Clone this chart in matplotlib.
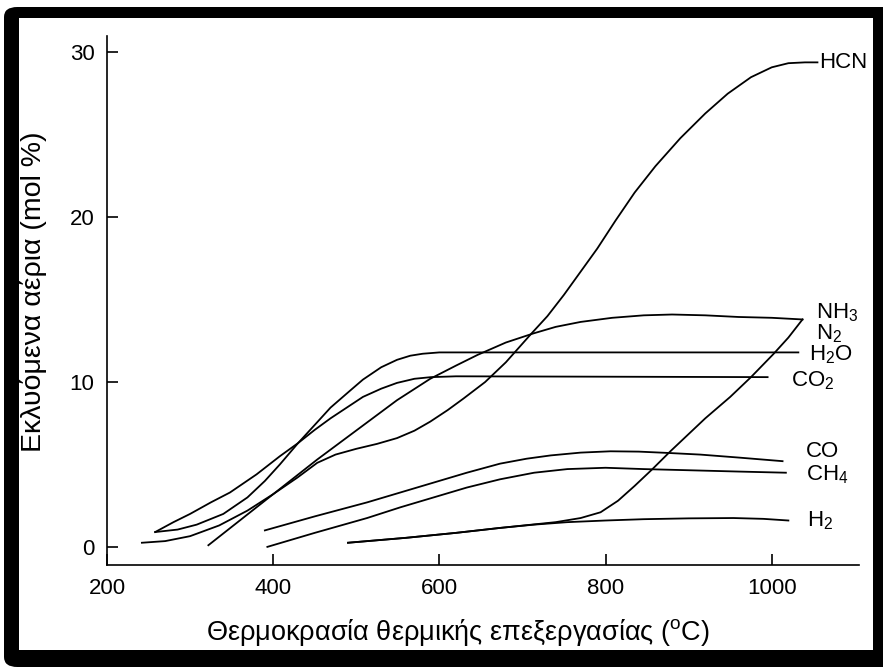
import matplotlib.pyplot as plt
from matplotlib.patches import FancyBboxPatch, Rectangle

plt.rcParams['font.family'] = ['Liberation Sans', 'DejaVu Sans']
plt.rcParams['mathtext.fontset'] = 'custom'
plt.rcParams['mathtext.rm'] = 'Liberation Sans'
plt.rcParams['mathtext.it'] = 'Liberation Sans'

# temperatures (C) and evolved gas (mol %)
hcn_t = [242, 270, 300, 335, 369, 400, 429, 453, 475, 500, 525, 549, 570, 589, 610, 629, 655,
         680, 710, 730, 750, 770, 790, 812, 835, 860, 890, 920, 947, 975, 1000, 1020, 1040, 1055]
hcn_v = [0.25, 0.35, 0.65, 1.3, 2.2, 3.2, 4.2, 5.1, 5.6, 5.95, 6.25, 6.6, 7.05, 7.6, 8.3, 9.0, 10.0,
         11.2, 12.9, 14.0, 15.3, 16.7, 18.1, 19.8, 21.5, 23.1, 24.8, 26.3, 27.5, 28.5, 29.1, 29.35, 29.4, 29.4]

nh3_t = [322, 390, 453, 493, 549, 589, 620, 646, 680, 713, 740, 770, 808, 846, 880, 920, 960, 1000, 1037]
nh3_v = [0.1, 2.8, 5.3, 6.8, 8.9, 10.2, 11.0, 11.65, 12.4, 12.95, 13.35, 13.65, 13.9, 14.05, 14.1, 14.05, 13.95, 13.9, 13.8]

n2_t = [490, 560, 620, 673, 740, 770, 794, 815, 835, 856, 878, 920, 950, 975, 1002, 1020, 1037]
n2_v = [0.25, 0.55, 0.85, 1.15, 1.5, 1.75, 2.1, 2.8, 3.7, 4.7, 5.8, 7.8, 9.1, 10.3, 11.7, 12.7, 13.8]

h2o_t = [258, 285, 308, 340, 369, 390, 408, 430, 450, 469, 493, 508, 530, 549, 565, 580, 600, 1032]
h2o_v = [0.9, 1.05, 1.35, 2.0, 3.0, 4.0, 5.0, 6.3, 7.4, 8.45, 9.5, 10.15, 10.9, 11.35, 11.6, 11.72, 11.8, 11.8]

co2_t = [258, 280, 300, 325, 348, 380, 408, 430, 450, 469, 490, 508, 530, 549, 570, 590, 620, 995]
co2_v = [0.9, 1.5, 2.0, 2.7, 3.3, 4.4, 5.5, 6.3, 7.1, 7.8, 8.5, 9.1, 9.6, 9.95, 10.2, 10.3, 10.35, 10.3]

co_t = [390, 450, 513, 553, 593, 633, 673, 705, 734, 770, 806, 840, 875, 914, 960, 1013]
co_v = [1.0, 1.85, 2.7, 3.3, 3.9, 4.5, 5.05, 5.35, 5.55, 5.72, 5.8, 5.78, 5.7, 5.6, 5.42, 5.2]

ch4_t = [393, 450, 513, 553, 593, 633, 673, 714, 754, 800, 846, 900, 960, 1017]
ch4_v = [0.0, 0.85, 1.75, 2.4, 3.0, 3.6, 4.1, 4.5, 4.72, 4.8, 4.72, 4.65, 4.57, 4.5]

h2_t = [490, 560, 620, 673, 714, 754, 800, 846, 900, 954, 990, 1020]
h2_v = [0.25, 0.55, 0.85, 1.15, 1.35, 1.5, 1.6, 1.68, 1.73, 1.75, 1.7, 1.6]

curve_labels = ['HCN', r'$\mathregular{NH_3}$', r'$\mathregular{N_2}$', r'$\mathregular{H_2O}$',
                r'$\mathregular{CO_2}$', 'CO', r'$\mathregular{CH_4}$', r'$\mathregular{H_2}$']
label_x = [1057, 1053, 1053, 1045, 1023, 1041, 1041, 1043]
label_y = [29.4, 14.2, 12.95, 11.65, 10.1, 5.8, 4.4, 1.6]

x_ticks = [200, 400, 600, 800, 1000]
y_ticks = [0, 10, 20, 30]

W, H = 883, 669
fig = plt.figure(figsize=(W / 100, H / 100), dpi=100)

# black rounded frame of the scan
frame = FancyBboxPatch((4 / W, 2 / H), 900 / W, 660 / H,
                       boxstyle='round,pad=0,rounding_size=0.015',
                       transform=fig.transFigure, facecolor='black',
                       edgecolor='none', zorder=-10)
inner = Rectangle((19 / W, 19 / H), 854 / W, 632 / H, transform=fig.transFigure,
                  facecolor='white', edgecolor='none', zorder=-9)
fig.patches.extend([frame, inner])

ax = fig.add_axes([107 / W, (H - 565) / H, (859 - 107) / W, (565 - 36) / H])
ax.set_facecolor('none')

for t, v in [(hcn_t, hcn_v), (nh3_t, nh3_v), (n2_t, n2_v), (h2o_t, h2o_v),
             (co2_t, co2_v), (co_t, co_v), (ch4_t, ch4_v), (h2_t, h2_v)]:
    ax.plot(t, v, color='black', lw=1.3, solid_joinstyle='round')

for lab, lx, ly in zip(curve_labels, label_x, label_y):
    ax.text(lx, ly, lab, fontsize=16, ha='left', va='center', clip_on=False)

ax.set_xlim(200, 1105)
ax.set_ylim(-1.1, 31)
ax.set_xticks(x_ticks)
ax.set_yticks(y_ticks)
ax.tick_params(direction='in', length=8, width=1.2, labelsize=16, pad=9)
ax.spines['top'].set_visible(False)
ax.spines['right'].set_visible(False)
ax.spines['left'].set_linewidth(1.2)
ax.spines['bottom'].set_linewidth(1.2)

ax.set_xlabel('Θερμοκρασία θερμικής επεξεργασίας ($^\\mathregular{o}$C)', fontsize=19.5)
ax.set_ylabel('Εκλυόμενα αέρια (mol %)', fontsize=20.5)
ax.xaxis.set_label_coords(0.467, -0.098)
ax.yaxis.set_label_coords(-0.08, 0.516)

fig.savefig('out.png', dpi=100)
